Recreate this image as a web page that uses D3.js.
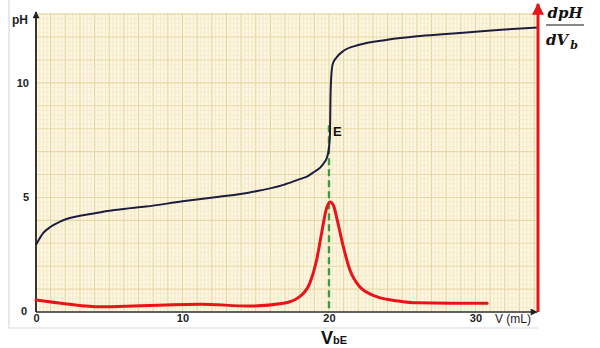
<!DOCTYPE html>
<html>
<head>
<meta charset="utf-8">
<script src="https://cdn.jsdelivr.net/npm/d3@7"></script>
<style>
  html, body { margin: 0; padding: 0; background: #fff; }
  svg { display: block; font-family: "Liberation Sans", Arial, sans-serif; }
</style>
</head>
<body>
<svg id="chart" width="600" height="348"></svg>
<script>
// Titration curve: pH vs volume of base added (mL)
const volumes = [0, 0.5, 1, 1.6, 2.3, 3, 4.1, 5, 6, 7.5, 10, 12.5, 14.6, 16.9, 18, 18.5, 19, 19.4, 19.7, 19.85, 20.0, 20.07, 20.1, 20.15, 20.25, 20.5, 21, 22, 24, 26, 28, 30, 32, 34.27];
const phValues = [2.93, 3.45, 3.72, 3.93, 4.1, 4.2, 4.32, 4.42, 4.5, 4.6, 4.83, 5.03, 5.22, 5.55, 5.8, 5.91, 6.12, 6.3, 6.55, 6.72, 7.16, 7.8, 9.26, 10.2, 10.8, 11.1, 11.4, 11.65, 11.88, 12.03, 12.13, 12.23, 12.33, 12.42];

// Derivative dpH/dVb (arbitrary units, shown on right axis)
const derivVolumes = [0, 2.1, 4.4, 6.6, 8.9, 11.2, 14.6, 16.9, 18.0, 18.7, 19.16, 19.5, 19.8, 20.07, 20.3, 20.57, 20.98, 21.43, 22.1, 23.26, 24.85, 26, 28.3, 30.8];
const derivValues = [0.52, 0.35, 0.23, 0.26, 0.31, 0.34, 0.26, 0.38, 0.67, 1.27, 2.27, 3.45, 4.45, 4.8, 4.66, 4.0, 2.85, 1.83, 1.1, 0.67, 0.47, 0.4, 0.38, 0.38];

const xTicks = [0, 10, 20, 30];
const yTicks = [0, 5, 10];
const equivalenceVolume = 20;
const equivalencePH = 7.8;

const svg = d3.select("#chart");
const plotLeft = 36, plotRight = 538, plotTop = 13, plotBottom = 312;

const x = d3.scaleLinear().domain([0, 34.27]).range([plotLeft, plotRight]);
const y = d3.scaleLinear().domain([0, 13.05]).range([plotBottom, plotTop]);
const y2 = d3.scaleLinear().domain([0, 13.05]).range([plotBottom, plotTop]);

// outer frame
svg.append("path")
  .attr("d", `M9,0 V328 H${plotRight}`)
  .attr("fill", "none").attr("stroke", "#d4dae6").attr("stroke-width", 1.2);

// graph paper background
svg.append("rect")
  .attr("x", plotLeft).attr("y", plotTop).attr("width", plotRight - plotLeft).attr("height", plotBottom - plotTop)
  .attr("fill", "#fdf7e1");

const grid = svg.append("g");
const minorX = d3.range(0, 34.27, 0.25);
const minorY = d3.range(0, 13.05, 0.2);
const isWhole = d => Math.abs(d - Math.round(d)) < 1e-6;
grid.selectAll(".vx").data(minorX).join("line")
  .attr("x1", d => x(d)).attr("x2", d => x(d)).attr("y1", plotTop).attr("y2", plotBottom)
  .attr("stroke", d => isWhole(d) ? "#e4d49c" : "#f0e4bd")
  .attr("stroke-width", d => isWhole(d) ? 1.1 : 0.7);
grid.selectAll(".hy").data(minorY).join("line")
  .attr("y1", d => y(d)).attr("y2", d => y(d)).attr("x1", plotLeft).attr("x2", plotRight)
  .attr("stroke", d => isWhole(d) ? "#e7d9a6" : "#f4eaca")
  .attr("stroke-width", d => isWhole(d) ? 1.1 : 0.7);

// arrow markers
const defs = svg.append("defs");
function marker(id, color, w, h) {
  defs.append("marker").attr("id", id)
    .attr("viewBox", "0 0 10 10").attr("refX", 9).attr("refY", 5)
    .attr("markerWidth", w).attr("markerHeight", h).attr("markerUnits", "userSpaceOnUse")
    .attr("orient", "auto")
    .append("path").attr("d", "M0,0 L10,5 L0,10 Z").attr("fill", color);
}
marker("arrDark", "#222", 8, 7);
marker("arrRed", "#e8141a", 13, 12);

// axes
const xAxis = d3.axisBottom(x).tickValues(xTicks).tickSize(0).tickPadding(3).tickFormat(d3.format("d"));
const yAxis = d3.axisLeft(y).tickValues(yTicks).tickSize(0).tickPadding(7).tickFormat(d3.format("d"));

const gx = svg.append("g").attr("transform", `translate(0,${plotBottom})`).call(xAxis);
const gy = svg.append("g").attr("transform", `translate(${plotLeft},0)`).call(yAxis);
[gx, gy].forEach(g => {
  g.select(".domain").remove();
  g.selectAll("text").attr("font-size", 11).attr("font-weight", "bold")
    .attr("fill", "#222").attr("font-family", "Liberation Sans, Arial, sans-serif");
});
gx.selectAll("text").attr("dy", "0.65em");
gy.selectAll(".tick").filter(d => d === 0).select("text").attr("dy", "0.2em").attr("x", -9);

svg.append("line").attr("x1", plotLeft).attr("x2", plotRight - 1).attr("y1", plotBottom).attr("y2", plotBottom)
  .attr("stroke", "#333").attr("stroke-width", 1.6).attr("marker-end", "url(#arrDark)");
svg.append("line").attr("x1", plotLeft).attr("x2", plotLeft).attr("y1", plotBottom).attr("y2", plotTop - 1)
  .attr("stroke", "#222").attr("stroke-width", 1.8).attr("marker-end", "url(#arrDark)");

svg.append("text").attr("x", 12).attr("y", 24).text("pH")
  .attr("font-size", 12).attr("font-weight", "bold").attr("fill", "#222");
svg.append("text").attr("x", 495).attr("y", 323).text("V (mL)")
  .attr("font-size", 12).attr("fill", "#222");

// equivalence point dashed line
svg.append("line")
  .attr("x1", x(equivalenceVolume)).attr("x2", x(equivalenceVolume))
  .attr("y1", y(equivalencePH) - 8).attr("y2", plotBottom)
  .attr("stroke", "#3f9a3a").attr("stroke-width", 2.4).attr("stroke-dasharray", "7,4");

// derivative curve
const derivData = derivVolumes.map((v, i) => [v, derivValues[i]]);
svg.append("path").datum(derivData)
  .attr("d", d3.line().x(d => x(d[0])).y(d => y2(d[1])).curve(d3.curveMonotoneX))
  .attr("fill", "none").attr("stroke", "#e8141a").attr("stroke-width", 3)
  .attr("stroke-linejoin", "round").attr("stroke-linecap", "round");

// pH curve
const phData = volumes.map((v, i) => [v, phValues[i]]);
svg.append("path").datum(phData)
  .attr("d", d3.line().x(d => x(d[0])).y(d => y(d[1])).curve(d3.curveMonotoneX))
  .attr("fill", "none").attr("stroke", "#1d1d3f").attr("stroke-width", 2)
  .attr("stroke-linejoin", "round");

// right derivative axis
svg.append("line").attr("x1", plotRight).attr("x2", plotRight).attr("y1", plotBottom).attr("y2", 4)
  .attr("stroke", "#e8141a").attr("stroke-width", 3).attr("marker-end", "url(#arrRed)");

// labels
svg.append("text").attr("x", x(equivalenceVolume) + 4).attr("y", y(equivalencePH) + 3)
  .text("E").attr("font-size", 13).attr("font-weight", "bold").attr("fill", "#111");

const vbe = svg.append("text").attr("x", x(equivalenceVolume) - 8).attr("y", 344)
  .attr("font-weight", "bold").attr("fill", "#111");
vbe.append("tspan").attr("font-size", 18).text("V");
vbe.append("tspan").attr("font-size", 11).text("bE");

const frac = svg.append("g").attr("font-family", "DejaVu Serif, Liberation Serif, serif")
  .attr("font-style", "italic").attr("font-weight", "bold").attr("fill", "#111");
frac.append("text").attr("x", 565).attr("y", 18).attr("text-anchor", "middle")
  .attr("font-size", 15).text("dpH");
frac.append("line").attr("x1", 546).attr("x2", 584).attr("y1", 25).attr("y2", 25)
  .attr("stroke", "#111").attr("stroke-width", 1.2);
const den = frac.append("text").attr("x", 546).attr("y", 45).attr("font-size", 15);
den.append("tspan").text("dV");
den.append("tspan").attr("font-size", 11).attr("dy", 4).attr("dx", 2).text("b");
</script>
</body>
</html>
